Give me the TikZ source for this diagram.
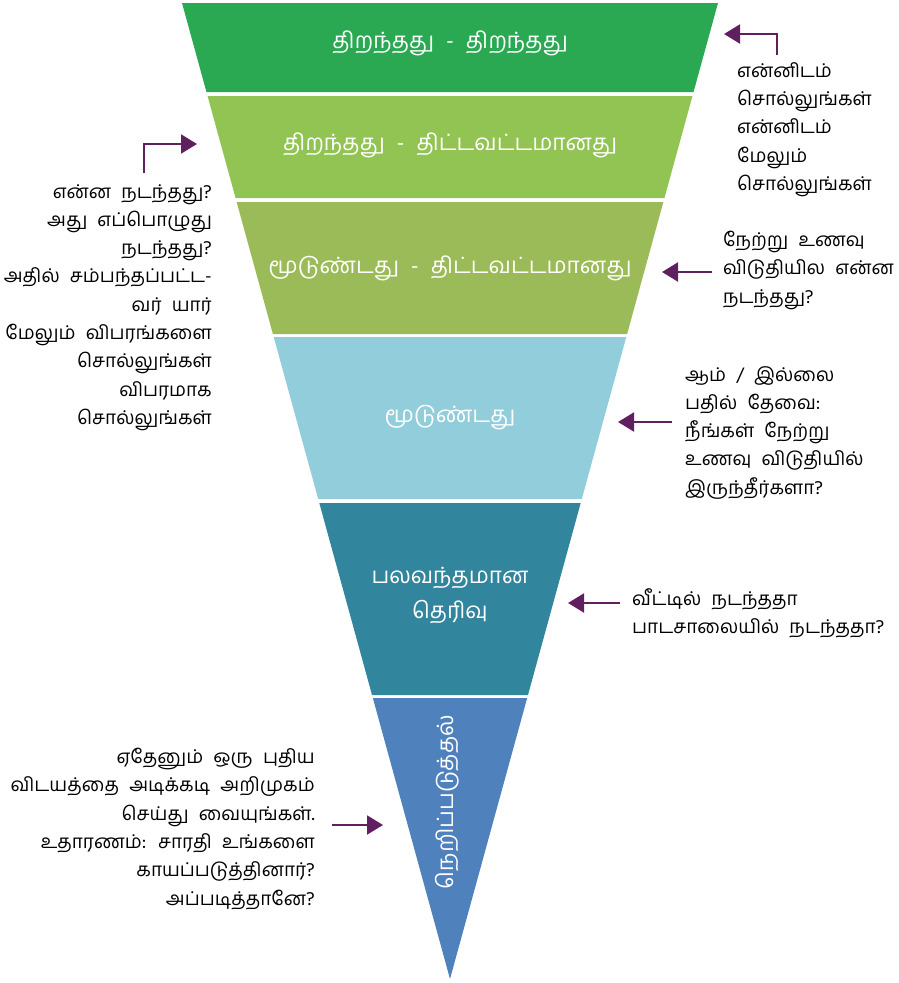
\documentclass[tikz,border=0pt]{standalone}
\usepackage{fontspec}
\newfontfamily\tamil[Script=Tamil,WordSpace=2.2]{Hind Madurai}
\usetikzlibrary{arrows.meta}
\definecolor{bandA}{RGB}{42,169,82}
\definecolor{bandB}{RGB}{146,196,83}
\definecolor{bandC}{RGB}{155,187,89}
\definecolor{bandD}{RGB}{146,205,220}
\definecolor{bandE}{RGB}{49,133,156}
\definecolor{bandF}{RGB}{79,129,189}
\definecolor{pointer}{RGB}{96,32,96}
\tikzset{
	bandtext/.style={text=white,font=\tamil\fontsize{22.5}{35}\selectfont,align=center},
	sidetext/.style={text=black,font=\tamil\fontsize{19}{28.3}\selectfont,inner sep=0pt},
	pointer/.style={draw=pointer,line width=2pt,-{Triangle[length=16pt,width=19pt]}}
}

\begin{document}
\begin{tikzpicture}[x=1pt,y=-1pt]
		\pgfmathsetmacro{\apexY}{979}
		\pgfmathsetmacro{\slope}{268/976}
		\useasboundingbox (0,0) rectangle (899,983);
		
		\foreach \yTop/\yBot/\col in {3/92/bandA,96/198/bandB,202/334/bandC,337/499/bandD,503/695/bandE,698/979/bandF} {
			\pgfmathsetmacro{\wTop}{\slope*(\apexY-\yTop)}
			\pgfmathsetmacro{\wBot}{\slope*(\apexY-\yBot)}
			\fill[\col] (450-\wTop,\yTop) -- (450+\wTop,\yTop) -- (450+\wBot,\yBot) -- (450-\wBot,\yBot) -- cycle;
		}
		
		\node[bandtext] (openopen) at (450,43) {திறந்தது - திறந்தது};
		\node[bandtext] (openfocus) at (450,145) {திறந்தது - திட்டவட்டமானது};
		\node[bandtext] (closedfocus) at (450,268) {மூடுண்டது - திட்டவட்டமானது};
		\node[bandtext] (closed) at (450,418) {மூடுண்டது};
		\node[bandtext] (forced) at (450,595) {பலவந்தமான\\தெரிவு};
		\node[bandtext,rotate=90] (leading) at (447,802) {நெறிப்படுத்தல்};
		
		\node[sidetext,anchor=north west,align=left] (tellme) at (737,62) {என்னிடம்\\சொல்லுங்கள்\\என்னிடம்\\மேலும்\\சொல்லுங்கள்};
		\node[sidetext,anchor=north east,align=right] (whathappened) at (212,184) {என்ன நடந்தது?\\அது எப்பொழுது\\நடந்தது?\\அதில் சம்பந்தப்பட்ட-\\வர் யார்\\மேலும் விபரங்களை\\சொல்லுங்கள்\\விபரமாக\\சொல்லுங்கள்};
		\node[sidetext,anchor=north west,align=left] (diner) at (723,231) {நேற்று உணவு\\விடுதியில என்ன\\நடந்தது?};
		\node[sidetext,anchor=north west,align=left] (yesno) at (685,366) {ஆம் / இல்லை\\பதில் தேவை:\\நீங்கள் நேற்று\\உணவு விடுதியில்\\இருந்தீர்களா?};
		\node[sidetext,anchor=north west,align=left] (homeschool) at (632,588) {வீட்டில் நடந்ததா\\பாடசாலையில் நடந்ததா?};
		\node[sidetext,anchor=north east,align=right] (newtopic) at (315,748) {ஏதேனும் ஒரு புதிய\\விடயத்தை அடிக்கடி அறிமுகம்\\செய்து வையுங்கள்.\\உதாரணம்: சாரதி உங்களை\\காயப்படுத்தினார்?\\அப்படித்தானே?};
		
		\coordinate (tellmefoot) at (777,55);
		\coordinate (openopentip) at (724,34);
		\coordinate (whathappenedfoot) at (144,173);
		\coordinate (openfocustip) at (197,144);
		\coordinate (dinerfoot) at (712,272);
		\coordinate (closedfocustip) at (662,272);
		\coordinate (yesnofoot) at (672,422);
		\coordinate (closedtip) at (618,422);
		\coordinate (homeschoolfoot) at (620,603);
		\coordinate (forcedtip) at (568,603);
		\coordinate (newtopicfoot) at (332,825);
		\coordinate (leadingtip) at (383,825);
		
		\draw[pointer] (tellmefoot) |- (openopentip);
		\draw[pointer] (whathappenedfoot) |- (openfocustip);
		\draw[pointer] (dinerfoot) -- (closedfocustip);
		\draw[pointer] (yesnofoot) -- (closedtip);
		\draw[pointer] (homeschoolfoot) -- (forcedtip);
		\draw[pointer] (newtopicfoot) -- (leadingtip);
	\end{tikzpicture}
\end{document}
